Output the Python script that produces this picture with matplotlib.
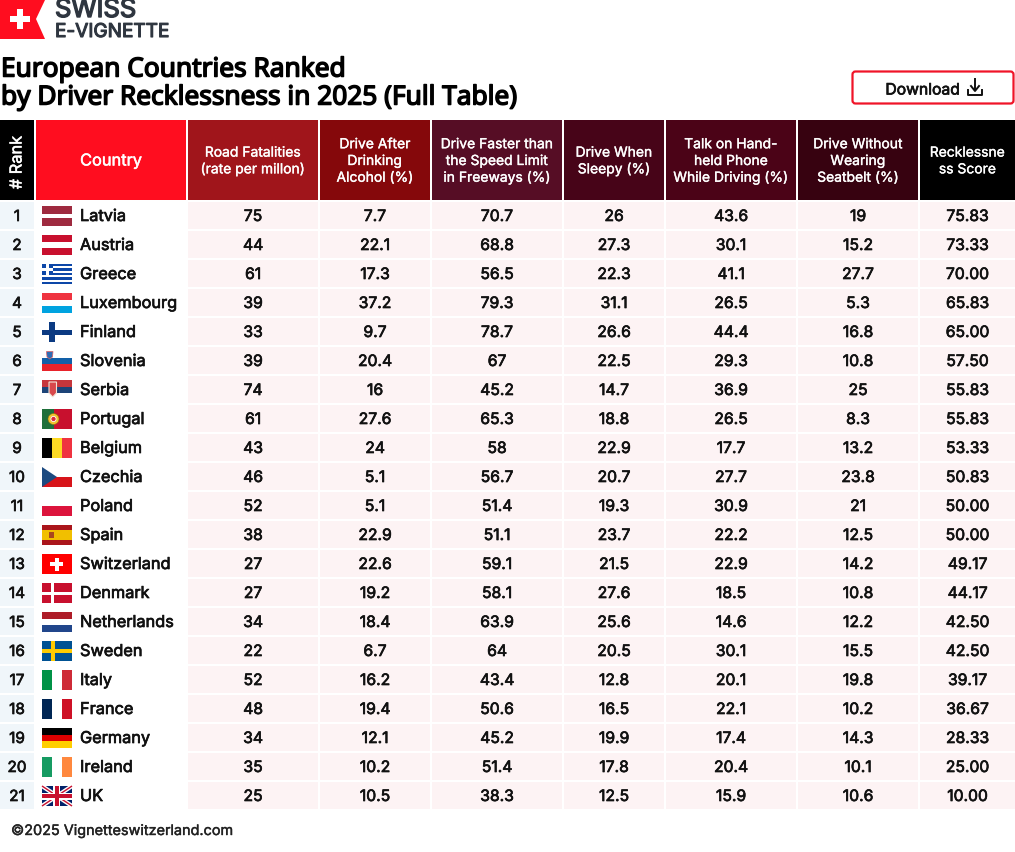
import matplotlib
matplotlib.use('Agg')
import matplotlib.pyplot as plt
import matplotlib.patheffects as pe
from matplotlib.patches import Rectangle, Polygon, FancyBboxPatch, Circle

plt.rcParams['font.family'] = ['Inter', 'DejaVu Sans']

# table data
countries = ['Latvia', 'Austria', 'Greece', 'Luxembourg', 'Finland', 'Slovenia', 'Serbia',
             'Portugal', 'Belgium', 'Czechia', 'Poland', 'Spain', 'Switzerland', 'Denmark',
             'Netherlands', 'Sweden', 'Italy', 'France', 'Germany', 'Ireland', 'UK']
fatalities = ['75', '44', '61', '39', '33', '39', '74', '61', '43', '46', '52', '38', '27', '27',
              '34', '22', '52', '48', '34', '35', '25']
alcohol = ['7.7', '22.1', '17.3', '37.2', '9.7', '20.4', '16', '27.6', '24', '5.1', '5.1', '22.9',
           '22.6', '19.2', '18.4', '6.7', '16.2', '19.4', '12.1', '10.2', '10.5']
speeding = ['70.7', '68.8', '56.5', '79.3', '78.7', '67', '45.2', '65.3', '58', '56.7', '51.4',
            '51.1', '59.1', '58.1', '63.9', '64', '43.4', '50.6', '45.2', '51.4', '38.3']
sleepy = ['26', '27.3', '22.3', '31.1', '26.6', '22.5', '14.7', '18.8', '22.9', '20.7', '19.3',
          '23.7', '21.5', '27.6', '25.6', '20.5', '12.8', '16.5', '19.9', '17.8', '12.5']
phone = ['43.6', '30.1', '41.1', '26.5', '44.4', '29.3', '36.9', '26.5', '17.7', '27.7', '30.9',
         '22.2', '22.9', '18.5', '14.6', '30.1', '20.1', '22.1', '17.4', '20.4', '15.9']
seatbelt = ['19', '15.2', '27.7', '5.3', '16.8', '10.8', '25', '8.3', '13.2', '23.8', '21', '12.5',
            '14.2', '10.8', '12.2', '15.5', '19.8', '10.2', '14.3', '10.1', '10.6']
score = ['75.83', '73.33', '70.00', '65.83', '65.00', '57.50', '55.83', '55.83', '53.33', '50.83',
         '50.00', '50.00', '49.17', '44.17', '42.50', '42.50', '39.17', '36.67', '28.33', '25.00',
         '10.00']

headers = ['Road Fatalities\n(rate per millon)', 'Drive After\nDrinking\nAlcohol (%)',
           'Drive Faster than\nthe Speed Limit\nin Freeways (%)', 'Drive When\nSleepy (%)',
           'Talk on Hand-\nheld Phone\nWhile Driving (%)', 'Drive Without\nWearing\nSeatbelt (%)',
           'Recklessne\nss Score']
header_colors = ['#a0151b', '#85080b', '#560d25', '#470418', '#4b0317', '#370210', '#000000']
columns = [fatalities, alcohol, speeding, sleepy, phone, seatbelt, score]

# column edges in pixels
col_edges = [(188, 318), (320, 430), (432, 562), (564, 664), (666, 796), (798, 918), (920, 1015)]
row_top = 201.5
row_step = 29
row_h = 27

fig = plt.figure(figsize=(10.15, 8.52), dpi=100)
ax = fig.add_axes([0, 0, 1, 1])
ax.set_xlim(0, 1015)
ax.set_ylim(852, 0)
ax.axis('off')


def box(x0, y0, x1, y1, color, z=1):
    ax.add_patch(Rectangle((x0, y0), x1 - x0, y1 - y0, fc=color, ec='none', zorder=z))


# the installed fonts only come in one weight here, so thicken with a stroke
def label(x, y, s, size, color='#111111', stroke=0.5, **kw):
    kw.setdefault('ha', 'center')
    kw.setdefault('va', 'center')
    t = ax.text(x, y, s, fontsize=size, color=color, zorder=10, **kw)
    t.set_path_effects([pe.withStroke(linewidth=stroke, foreground=color)])
    return t


# flag helpers, y is the top of the flag
FX, FW, FH = 42, 30, 20


def hstripes(y, cols, weights=None):
    weights = weights or [1] * len(cols)
    pos = y
    for c, w in zip(cols, weights):
        h = FH * w / sum(weights)
        box(FX, pos, FX + FW, pos + h, c, 3)
        pos += h


def vstripes(y, cols, weights=None):
    weights = weights or [1] * len(cols)
    pos = FX
    for c, w in zip(cols, weights):
        wd = FW * w / sum(weights)
        box(pos, y, pos + wd, y + FH, c, 3)
        pos += wd


def nordic(y, bg, cross, t=4):
    box(FX, y, FX + FW, y + FH, bg, 3)
    cx = FX + 11
    box(cx - t / 2, y, cx + t / 2, y + FH, cross, 4)
    box(FX, y + FH / 2 - t / 2, FX + FW, y + FH / 2 + t / 2, cross, 4)


def swiss_cross(cx, cy, s, w):
    box(cx - s, cy - w, cx + s, cy + w, 'white', 5)
    box(cx - w, cy - s, cx + w, cy + s, 'white', 5)


def draw_flag(name, y):
    if name == 'Latvia':
        hstripes(y, ['#9e2a3f', '#ffffff', '#9e2a3f'], [2, 1, 2])
    elif name == 'Austria':
        hstripes(y, ['#c8102e', '#ffffff', '#c8102e'])
    elif name == 'Greece':
        hstripes(y, ['#0d47a8', '#ffffff'] * 4 + ['#0d47a8'])
        box(FX, y, FX + 11, y + 11, '#0d47a8', 4)
        box(FX + 4.4, y, FX + 6.6, y + 11, 'white', 5)
        box(FX, y + 4.4, FX + 11, y + 6.6, 'white', 5)
    elif name == 'Luxembourg':
        hstripes(y, ['#ef3340', '#ffffff', '#00a3e0'])
    elif name == 'Finland':
        box(FX, y, FX + FW, y + FH, 'white', 3)
        box(FX + 7, y, FX + 13, y + FH, '#0b3a82', 4)
        box(FX, y + 7.5, FX + FW, y + 12.5, '#0b3a82', 4)
    elif name == 'Slovenia':
        hstripes(y, ['#ffffff', '#1260a8', '#e8232b'])
        ax.add_patch(Polygon([[FX + 4.5, y + 0.5], [FX + 11, y + 0.5], [FX + 10.5, y + 6],
                              [FX + 7.7, y + 8], [FX + 5, y + 6]], fc='#2f6cb5', ec='#e06060', lw=0.5, zorder=4))
    elif name == 'Serbia':
        hstripes(y, ['#c6363c', '#1d4478', '#ffffff'])
        ax.add_patch(Polygon([[FX + 7, y + 2], [FX + 14.5, y + 2], [FX + 14.5, y + 13],
                              [FX + 10.7, y + 17], [FX + 7, y + 13]], fc='#d8494c', ec='#f0e6d8', lw=0.8, zorder=4))
    elif name == 'Portugal':
        vstripes(y, ['#1f6f3a', '#c8102e'], [2, 3])
        ax.add_patch(Circle((FX + 11.5, y + 10), 5.5, fc='#f2c230', ec='#8a6d10', lw=0.4, zorder=4))
        ax.add_patch(Circle((FX + 11.5, y + 10), 2.6, fc='#d9283c', ec='white', lw=0.6, zorder=5))
    elif name == 'Belgium':
        vstripes(y, ['#000000', '#fdda24', '#ef3340'])
    elif name == 'Czechia':
        hstripes(y, ['#ffffff', '#d7141a'])
        ax.add_patch(Polygon([[FX, y], [FX + 15, y + 10], [FX, y + 20]], fc='#1c4a80', ec='none', zorder=4))
    elif name == 'Poland':
        hstripes(y, ['#ffffff', '#dc143c'])
    elif name == 'Spain':
        hstripes(y, ['#aa151b', '#f1bf00', '#aa151b'], [1, 2, 1])
        box(FX + 7, y + 7, FX + 12, y + 13, '#a8481f', 4)
    elif name == 'Switzerland':
        box(FX, y, FX + FW, y + FH, '#ff0000', 3)
        swiss_cross(FX + 15, y + 10, 6.5, 2)
    elif name == 'Denmark':
        nordic(y, '#c8102e', '#ffffff', 3)
    elif name == 'Netherlands':
        hstripes(y, ['#ae1c28', '#ffffff', '#21468b'])
    elif name == 'Sweden':
        nordic(y, '#005293', '#fecb00', 4)
    elif name == 'Italy':
        vstripes(y, ['#009246', '#ffffff', '#ce2b37'])
    elif name == 'France':
        vstripes(y, ['#002654', '#ffffff', '#ce1126'])
    elif name == 'Germany':
        hstripes(y, ['#000000', '#dd0000', '#ffce00'])
    elif name == 'Ireland':
        vstripes(y, ['#169b62', '#ffffff', '#ff883e'])
    elif name == 'UK':
        box(FX, y, FX + FW, y + FH, '#012169', 3)
        ax.plot([FX, FX + FW], [y, y + FH], color='white', lw=3, zorder=4, solid_capstyle='butt')
        ax.plot([FX, FX + FW], [y + FH, y], color='white', lw=3, zorder=4, solid_capstyle='butt')
        ax.plot([FX, FX + FW], [y, y + FH], color='#c8102e', lw=1, zorder=5, solid_capstyle='butt')
        ax.plot([FX, FX + FW], [y + FH, y], color='#c8102e', lw=1, zorder=5, solid_capstyle='butt')
        box(FX + 11.5, y, FX + 18.5, y + FH, 'white', 6)
        box(FX, y + 6.5, FX + FW, y + 13.5, 'white', 6)
        box(FX + 13, y, FX + 17, y + FH, '#c8102e', 7)
        box(FX, y + 8, FX + FW, y + 12, '#c8102e', 7)


# logo
ax.add_patch(Polygon([[0, 0], [45, 0], [36, 19], [45, 39], [0, 39]], fc='#ff0d1f', ec='none'))
swiss_cross(20, 19, 10, 3)
label(55, 10.5, 'SWISS', 18.4, color='#2f3640', stroke=1.0, ha='left')
label(55, 32, 'E-VIGNETTE', 13.7, color='#2f3640', stroke=0.8, ha='left')

# title
label(1, 70, 'European Countries Ranked', 18.9, color='black', stroke=1.1, ha='left', family='Noto Sans')
label(1, 98, 'by Driver Recklessness in 2025 (Full Table)', 18.9, color='black', stroke=1.1, ha='left',
      family='Noto Sans')

# download button
ax.add_patch(FancyBboxPatch((852.5, 71.5), 161, 32, boxstyle='round,pad=0,rounding_size=3',
                            fc='white', ec='#f01428', lw=1.6))
label(960, 90, 'Download', 11.3, ha='right')
ax.plot([968, 968, 982, 982], [90, 95, 95, 90], color='#111', lw=1.4)
ax.plot([975, 975], [79, 90], color='#111', lw=1.4)
ax.plot([971, 975, 979], [86, 91, 86], color='#111', lw=1.4)

# header row
box(0, 120, 34, 200, '#000000')
box(36, 120, 186, 200, '#ff0d1f')
label(17, 162.5, '# Rank', 11.8, color='white', stroke=0.35, rotation=90)
label(111, 161, 'Country', 11.8, color='white', stroke=0.35)
for (x0, x1), name, c in zip(col_edges, headers, header_colors):
    box(x0, 120, x1, 200, c)
    label((x0 + x1) / 2, 161, name, 10, color='white', stroke=0.25, linespacing=1.25)

# body rows
for i, name in enumerate(countries):
    top = row_top + i * row_step
    mid = top + row_h / 2 + 1.5
    box(0, top, 34, top + row_h, '#f0f6fa')
    label(17, mid, str(i + 1), 11)
    draw_flag(name, top + 4.5)
    label(80, mid, name, 11.75, ha='left')
    for (x0, x1), col in zip(col_edges, columns):
        box(x0, top, x1, top + row_h, '#fdf3f4')
        label((x0 + x1) / 2, mid, col[i], 11.3)

label(11, 831, '©2025 Vignetteswitzerland.com', 10.4, color='#222222', ha='left', stroke=0.3)

fig.savefig('out.png', dpi=100)
